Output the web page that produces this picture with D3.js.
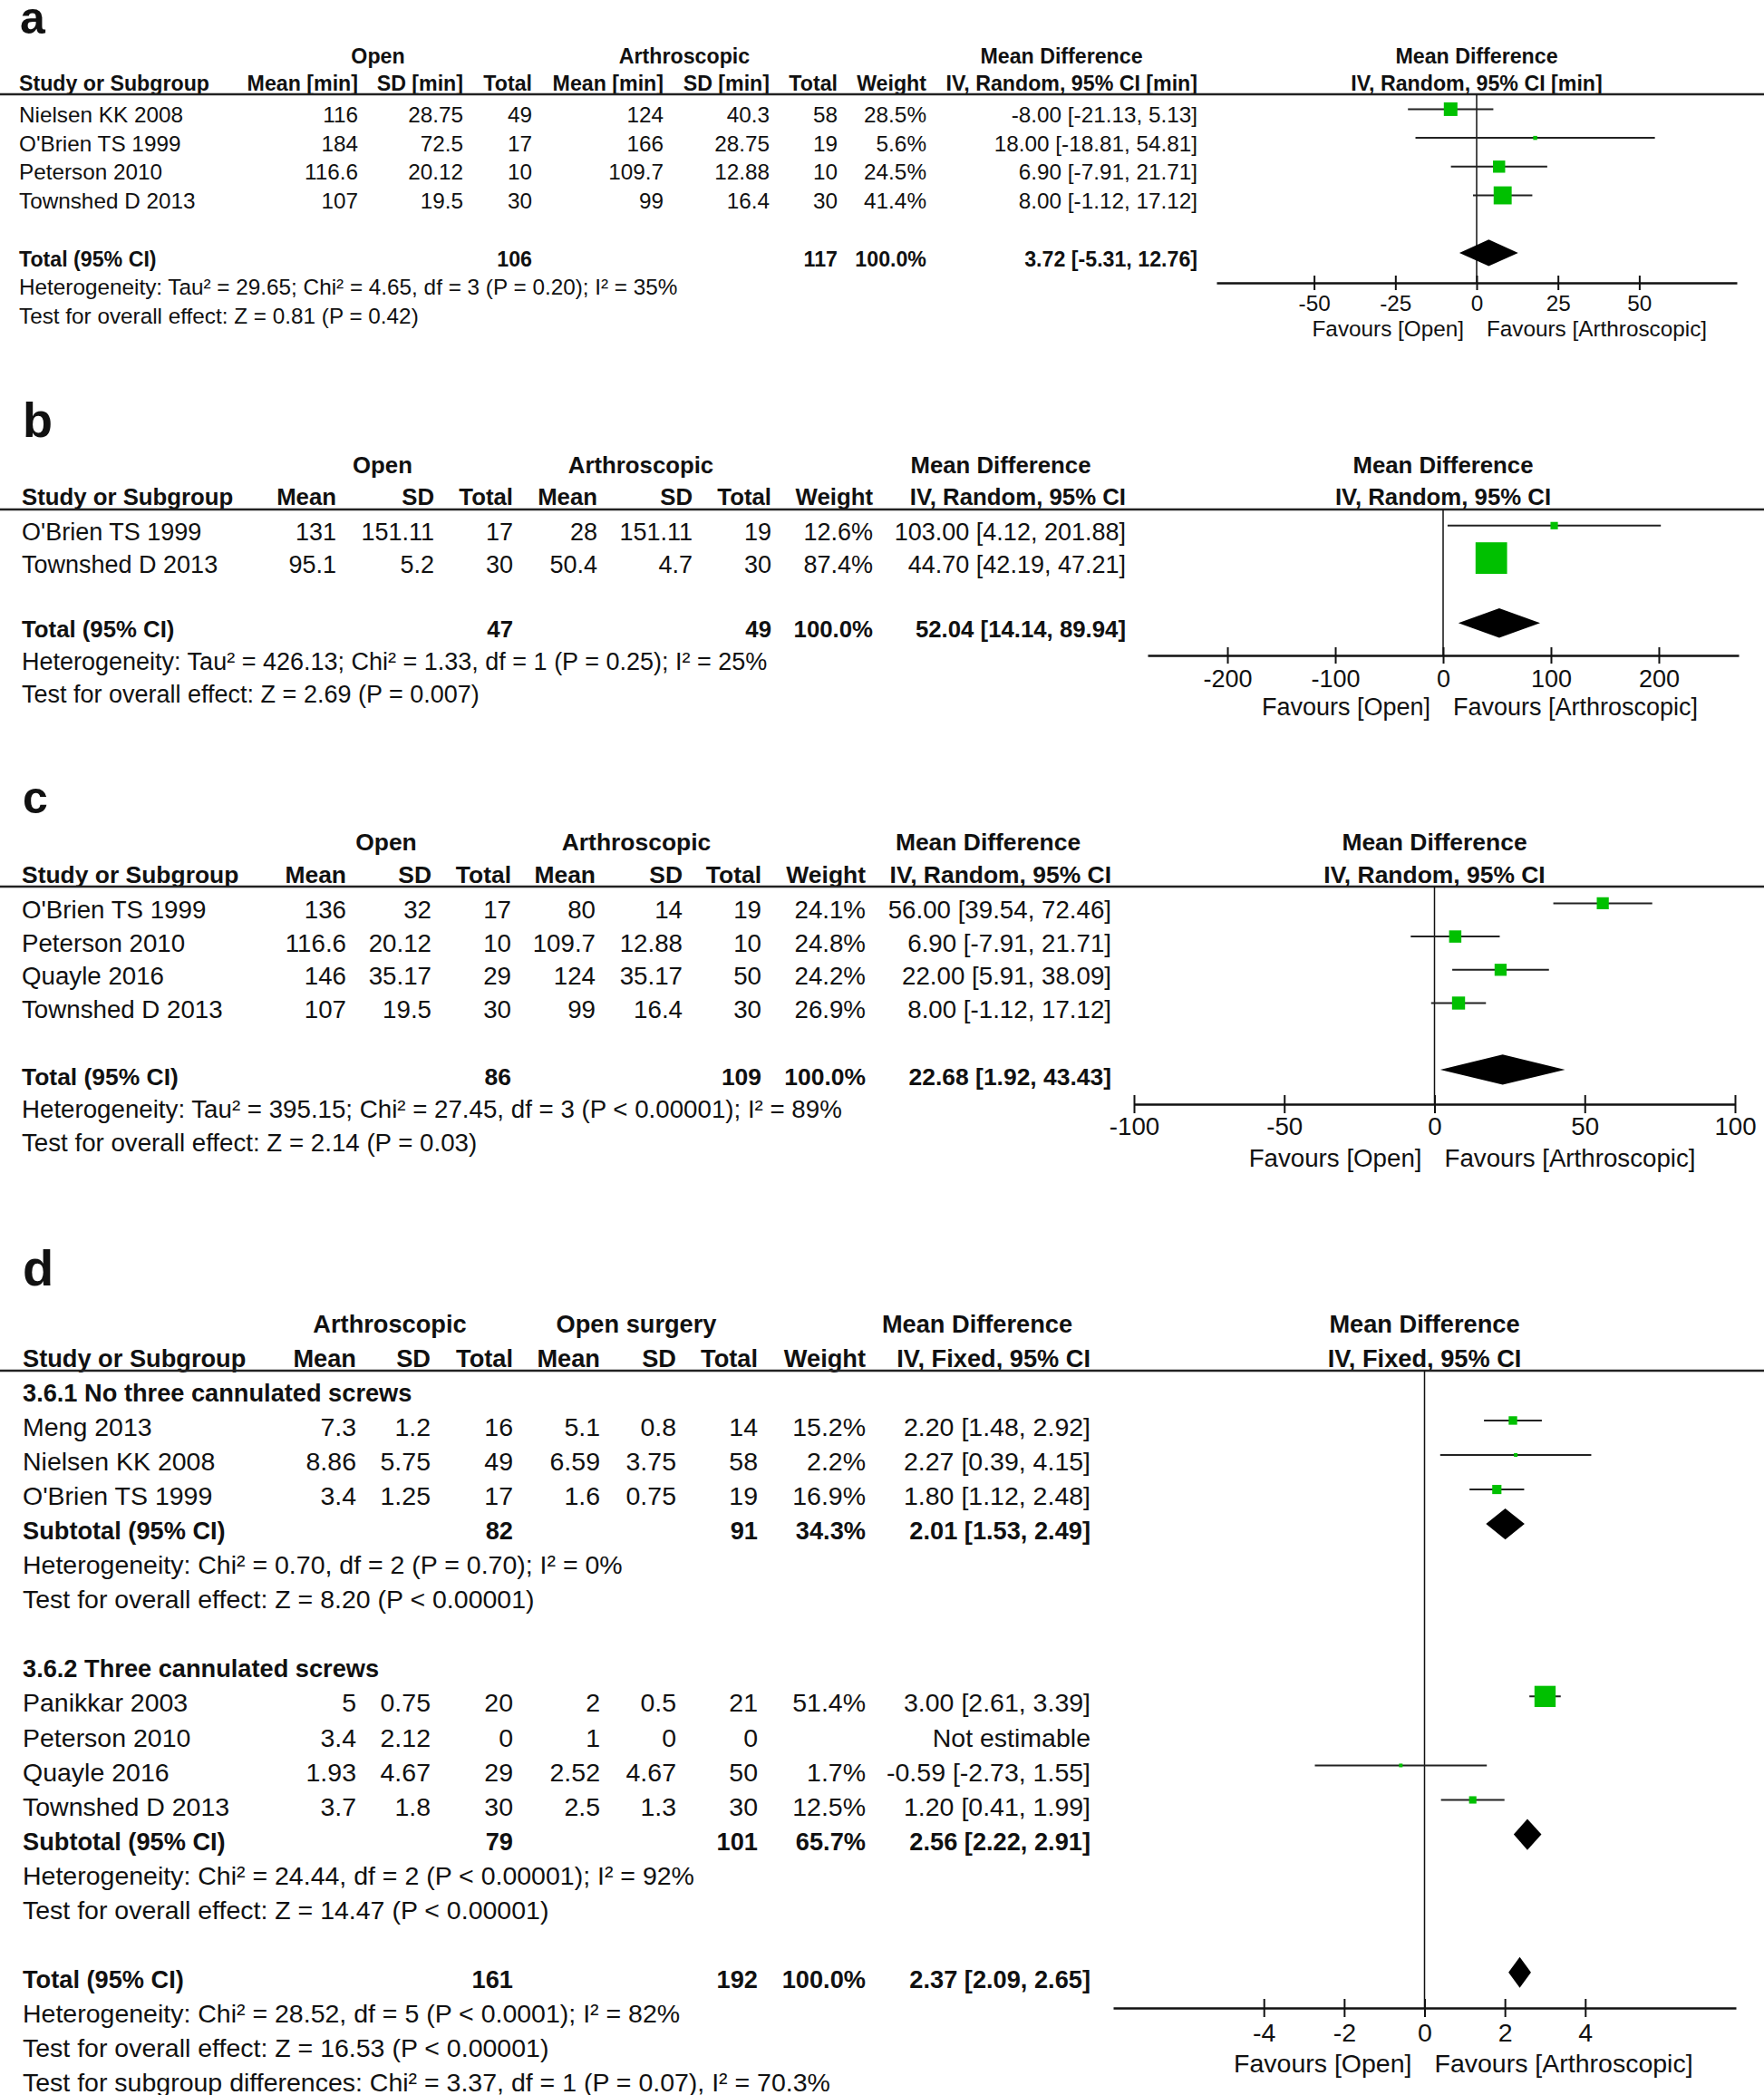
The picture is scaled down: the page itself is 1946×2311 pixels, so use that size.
<!DOCTYPE html>
<html>
<head>
<meta charset="utf-8">
<script src="https://cdn.jsdelivr.net/npm/d3@7"></script>
<style>
  body { margin: 0; background: #fff; }
  text { font-family: "Liberation Sans", Arial, sans-serif; fill: #111; }
</style>
</head>
<body>
<div id="chart"></div>
<script>

// ----- panel a : operation time -----
const aStudies  = ["Nielsen KK 2008", "O'Brien TS 1999", "Peterson 2010", "Townshed D 2013"];
const aOpenMean = [116, 184, 116.6, 107];
const aOpenSD   = [28.75, 72.5, 20.12, 19.5];
const aOpenN    = [49, 17, 10, 30];
const aArthMean = [124, 166, 109.7, 99];
const aArthSD   = [40.3, 28.75, 12.88, 16.4];
const aArthN    = [58, 19, 10, 30];
const aWeight   = [28.5, 5.6, 24.5, 41.4];
const aMD       = [-8.00, 18.00, 6.90, 8.00];
const aLower    = [-21.13, -18.81, -7.91, -1.12];
const aUpper    = [5.13, 54.81, 21.71, 17.12];
const aTotal    = [3.72, -5.31, 12.76];
const aTotalN   = [106, 117];
const aTicks    = [-50, -25, 0, 25, 50];
const aStats    = ["Heterogeneity: Tau² = 29.65; Chi² = 4.65, df = 3 (P = 0.20); I² = 35%",
                   "Test for overall effect: Z = 0.81 (P = 0.42)"];

// ----- panel b -----
const bStudies  = ["O'Brien TS 1999", "Townshed D 2013"];
const bOpenMean = [131, 95.1];
const bOpenSD   = [151.11, 5.2];
const bOpenN    = [17, 30];
const bArthMean = [28, 50.4];
const bArthSD   = [151.11, 4.7];
const bArthN    = [19, 30];
const bWeight   = [12.6, 87.4];
const bMD       = [103.00, 44.70];
const bLower    = [4.12, 42.19];
const bUpper    = [201.88, 47.21];
const bTotal    = [52.04, 14.14, 89.94];
const bTotalN   = [47, 49];
const bTicks    = [-200, -100, 0, 100, 200];
const bStats    = ["Heterogeneity: Tau² = 426.13; Chi² = 1.33, df = 1 (P = 0.25); I² = 25%",
                   "Test for overall effect: Z = 2.69 (P = 0.007)"];

// ----- panel c -----
const cStudies  = ["O'Brien TS 1999", "Peterson 2010", "Quayle 2016", "Townshed D 2013"];
const cOpenMean = [136, 116.6, 146, 107];
const cOpenSD   = [32, 20.12, 35.17, 19.5];
const cOpenN    = [17, 10, 29, 30];
const cArthMean = [80, 109.7, 124, 99];
const cArthSD   = [14, 12.88, 35.17, 16.4];
const cArthN    = [19, 10, 50, 30];
const cWeight   = [24.1, 24.8, 24.2, 26.9];
const cMD       = [56.00, 6.90, 22.00, 8.00];
const cLower    = [39.54, -7.91, 5.91, -1.12];
const cUpper    = [72.46, 21.71, 38.09, 17.12];
const cTotal    = [22.68, 1.92, 43.43];
const cTotalN   = [86, 109];
const cTicks    = [-100, -50, 0, 50, 100];
const cStats    = ["Heterogeneity: Tau² = 395.15; Chi² = 27.45, df = 3 (P < 0.00001); I² = 89%",
                   "Test for overall effect: Z = 2.14 (P = 0.03)"];

// ----- panel d (subgroups) -----
const dGroupNames = ["3.6.1 No three cannulated screws", "3.6.2 Three cannulated screws"];
const dStudies  = ["Meng 2013", "Nielsen KK 2008", "O'Brien TS 1999", "Panikkar 2003", "Peterson 2010", "Quayle 2016", "Townshed D 2013"];
const dGroup    = [0, 0, 0, 1, 1, 1, 1];
const dArthMean = [7.3, 8.86, 3.4, 5, 3.4, 1.93, 3.7];
const dArthSD   = [1.2, 5.75, 1.25, 0.75, 2.12, 4.67, 1.8];
const dArthN    = [16, 49, 17, 20, 0, 29, 30];
const dOpenMean = [5.1, 6.59, 1.6, 2, 1, 2.52, 2.5];
const dOpenSD   = [0.8, 3.75, 0.75, 0.5, 0, 4.67, 1.3];
const dOpenN    = [14, 58, 19, 21, 0, 50, 30];
const dWeight   = [15.2, 2.2, 16.9, 51.4, null, 1.7, 12.5];
const dMD       = [2.20, 2.27, 1.80, 3.00, null, -0.59, 1.20];
const dLower    = [1.48, 0.39, 1.12, 2.61, null, -2.73, 0.41];
const dUpper    = [2.92, 4.15, 2.48, 3.39, null, 1.55, 1.99];
const dSubN1    = [82, 79];
const dSubN2    = [91, 101];
const dSubWeight = [34.3, 65.7];
const dSubMD    = [2.01, 2.56];
const dSubLower = [1.53, 2.22];
const dSubUpper = [2.49, 2.91];
const dSubStats = [
  ["Heterogeneity: Chi² = 0.70, df = 2 (P = 0.70); I² = 0%",
   "Test for overall effect: Z = 8.20 (P < 0.00001)"],
  ["Heterogeneity: Chi² = 24.44, df = 2 (P < 0.00001); I² = 92%",
   "Test for overall effect: Z = 14.47 (P < 0.00001)"]
];
const dTotal    = [2.37, 2.09, 2.65];
const dTotalN   = [161, 192];
const dTicks    = [-4, -2, 0, 2, 4];
const dStats    = ["Heterogeneity: Chi² = 28.52, df = 5 (P < 0.0001); I² = 82%",
                   "Test for overall effect: Z = 16.53 (P < 0.00001)",
                   "Test for subgroup differences: Chi² = 3.37, df = 1 (P = 0.07), I² = 70.3%"];

// ---------------------------------------------------------------

const W = 1946, H = 2311;
const green = "#00c000";
const boldScale = 0.955;   // the bold face in the picture is narrow

const svg = d3.select("#chart").append("svg")
  .attr("width", W).attr("height", H);

// box side grows with weight (same rule for every panel)
const boxSize = d3.scalePow().exponent(0.75).domain([0, 100]).range([0, 38.5]);

function fmtCI(md, lo, hi) {
  return md.toFixed(2) + " [" + lo.toFixed(2) + ", " + hi.toFixed(2) + "]";
}

function studyRows(slot0, names, m1, s1, n1, m2, s2, n2, w, md, lo, hi, idx) {
  return idx.map((i, k) => ({
    kind: "study", slot: slot0 + k,
    cells: [m1[i], s1[i], n1[i], m2[i], s2[i], n2[i]].map(String)
      .concat([w[i] == null ? "" : w[i].toFixed(1) + "%",
               md[i] == null ? "Not estimable" : fmtCI(md[i], lo[i], hi[i])]),
    name: names[i], w: w[i], md: md[i], lo: lo[i], hi: hi[i]
  }));
}

function totalRow(slot, label, nn, w, t) {
  return { kind: "total", slot: slot, name: label, n1: nn[0], n2: nn[1],
           w: w.toFixed(1) + "%", md: t[0], lo: t[1], hi: t[2] };
}

function statRows(slot0, lines) {
  return lines.map((s, k) => ({ kind: "stat", slot: slot0 + k, name: s }));
}

function drawPanel(p) {
  const g = svg.append("g").style("font-size", p.fs + "px");
  const bold = g.append("g").style("font-weight", "bold").style("font-size", (p.fs * boldScale) + "px");
  const y = d3.scaleLinear().domain([0, 1]).range([p.row0, p.row0 + p.rowStep]);
  const x = d3.scaleLinear().domain(p.domain).range(p.range);
  const off = 0.6 * p.fs;
  const x0 = x(0);

  g.append("text")
    .attr("x", p.labelX).attr("y", p.labelY)
    .style("font-size", p.labelFs + "px").style("font-weight", "bold")
    .text(p.label);

  // header, first line
  p.groupHeads.forEach(([t, cx]) => {
    bold.append("text").attr("x", cx).attr("y", p.hdr1Y)
      .attr("text-anchor", "middle").text(t);
  });
  bold.append("text").attr("x", x0).attr("y", p.hdr1Y)
    .attr("text-anchor", "middle").text("Mean Difference");

  // header, second line
  bold.append("text").attr("x", p.studyX).attr("y", p.hdr2Y).text("Study or Subgroup");
  p.hdr2.forEach((t, i) => {
    bold.append("text").attr("x", p.cols[i]).attr("y", p.hdr2Y)
      .attr("text-anchor", "end").text(t);
  });
  bold.append("text").attr("x", x0).attr("y", p.hdr2Y)
    .attr("text-anchor", "middle").text(p.hdr2[7]);

  g.append("line")
    .attr("x1", 0).attr("x2", W).attr("y1", p.lineY).attr("y2", p.lineY)
    .attr("stroke", "#222").attr("stroke-width", 2.5);

  // line of no effect
  g.append("line")
    .attr("x1", x0).attr("x2", x0).attr("y1", p.lineY).attr("y2", p.axisY)
    .attr("stroke", "#111").attr("stroke-width", 1.5);

  p.rows.forEach(r => {
    const by = y(r.slot);
    if (r.kind === "heading") {
      bold.append("text").attr("x", p.studyX).attr("y", by).text(r.name);
    } else if (r.kind === "stat") {
      g.append("text").attr("x", p.studyX).attr("y", by).text(r.name);
    } else if (r.kind === "study") {
      g.append("text").attr("x", p.studyX).attr("y", by).text(r.name);
      r.cells.forEach((c, i) => {
        g.append("text").attr("x", p.cols[i]).attr("y", by)
          .attr("text-anchor", "end").text(c);
      });
      if (r.md != null) {
        const cy = by - off;
        const s = Math.max(4, boxSize(r.w));
        g.append("line")
          .attr("x1", x(r.lo)).attr("x2", x(r.hi)).attr("y1", cy).attr("y2", cy)
          .attr("stroke", "#222").attr("stroke-width", 2);
        g.append("rect")
          .attr("x", x(r.md) - s / 2).attr("y", cy - s / 2)
          .attr("width", s).attr("height", s)
          .attr("fill", green);
      }
    } else if (r.kind === "total") {
      bold.append("text").attr("x", p.studyX).attr("y", by).text(r.name);
      [[2, r.n1], [5, r.n2], [6, r.w], [7, fmtCI(r.md, r.lo, r.hi)]].forEach(([i, v]) => {
        bold.append("text").attr("x", p.cols[i]).attr("y", by)
          .attr("text-anchor", "end").text(v);
      });
      const cy = by - off;
      g.append("path")
        .attr("d", d3.line()([[x(r.lo), cy], [x(r.md), cy - off], [x(r.hi), cy], [x(r.md), cy + off]]) + "Z")
        .attr("fill", "#000");
    }
  });

  // x axis
  const ax = g.append("g")
    .attr("transform", `translate(0,${p.axisY})`)
    .call(d3.axisBottom(x).tickValues(p.ticks).tickFormat(d => String(d)).tickSizeOuter(0));
  ax.attr("font-size", null).attr("font-family", null);
  ax.select(".domain").attr("stroke", "#111").attr("stroke-width", 2.7);
  ax.selectAll(".tick line")
    .attr("y1", -p.tick).attr("y2", p.tick)
    .attr("stroke", "#111").attr("stroke-width", 2);
  ax.selectAll(".tick text")
    .attr("y", p.tickLabelY - p.axisY).attr("dy", null);

  g.append("text").attr("x", x0 - 14).attr("y", p.favY)
    .attr("text-anchor", "end").text("Favours [Open]");
  g.append("text").attr("x", x0 + 11).attr("y", p.favY)
    .text("Favours [Arthroscopic]");
}

const idx = arr => arr.map((_, i) => i);

// panel a
drawPanel({
  label: "a", labelX: 22, labelY: 37, labelFs: 50, fs: 24.3, studyX: 21,
  cols: [395, 511, 587, 732, 849, 924, 1022, 1321],
  hdr1Y: 70, hdr2Y: 100, lineY: 104,
  groupHeads: [["Open", 417], ["Arthroscopic", 755], ["Mean Difference", 1171]],
  hdr2: ["Mean [min]", "SD [min]", "Total", "Mean [min]", "SD [min]", "Total", "Weight", "IV, Random, 95% CI [min]"],
  row0: 135, rowStep: 31.7,
  domain: [-80, 80], range: [1342, 1916],
  axisY: 312, ticks: aTicks, tick: 8, tickLabelY: 343, favY: 371,
  rows: studyRows(0, aStudies, aOpenMean, aOpenSD, aOpenN, aArthMean, aArthSD, aArthN,
                  aWeight, aMD, aLower, aUpper, idx(aStudies))
    .concat([totalRow(5, "Total (95% CI)", aTotalN, 100, aTotal)])
    .concat(statRows(6, aStats))
});

// panel b
drawPanel({
  label: "b", labelX: 25, labelY: 482, labelFs: 54, fs: 27, studyX: 24,
  cols: [371, 479, 566, 659, 764, 851, 963, 1242],
  hdr1Y: 522, hdr2Y: 557, lineY: 562,
  groupHeads: [["Open", 422], ["Arthroscopic", 707], ["Mean Difference", 1104]],
  hdr2: ["Mean", "SD", "Total", "Mean", "SD", "Total", "Weight", "IV, Random, 95% CI"],
  row0: 596, rowStep: 35.8,
  domain: [-274, 274], range: [1266, 1918],
  axisY: 723, ticks: bTicks, tick: 9, tickLabelY: 758, favY: 789,
  rows: studyRows(0, bStudies, bOpenMean, bOpenSD, bOpenN, bArthMean, bArthSD, bArthN,
                  bWeight, bMD, bLower, bUpper, idx(bStudies))
    .concat([totalRow(3, "Total (95% CI)", bTotalN, 100, bTotal)])
    .concat(statRows(4, bStats))
});

// panel c
drawPanel({
  label: "c", labelX: 25, labelY: 897, labelFs: 50, fs: 27.7, studyX: 24,
  cols: [382, 476, 564, 657, 753, 840, 955, 1226],
  hdr1Y: 938, hdr2Y: 974, lineY: 978,
  groupHeads: [["Open", 426], ["Arthroscopic", 702], ["Mean Difference", 1090]],
  hdr2: ["Mean", "SD", "Total", "Mean", "SD", "Total", "Weight", "IV, Random, 95% CI"],
  row0: 1013, rowStep: 36.7,
  domain: [-100, 100], range: [1251, 1914],
  axisY: 1218, ticks: cTicks, tick: 10, tickLabelY: 1252, favY: 1287,
  rows: studyRows(0, cStudies, cOpenMean, cOpenSD, cOpenN, cArthMean, cArthSD, cArthN,
                  cWeight, cMD, cLower, cUpper, idx(cStudies))
    .concat([totalRow(5, "Total (95% CI)", cTotalN, 100, cTotal)])
    .concat(statRows(6, cStats))
});

// panel d: two subgroups, then overall
const dRows = [];
[0, 1].forEach(gi => {
  const base = gi * 8;
  const members = idx(dStudies).filter(i => dGroup[i] === gi);
  dRows.push({ kind: "heading", slot: base, name: dGroupNames[gi] });
  dRows.push(...studyRows(base + 1, dStudies, dArthMean, dArthSD, dArthN, dOpenMean, dOpenSD, dOpenN,
                          dWeight, dMD, dLower, dUpper, members));
  const s = base + 1 + members.length;
  dRows.push(totalRow(s, "Subtotal (95% CI)", [dSubN1[gi], dSubN2[gi]], dSubWeight[gi],
                      [dSubMD[gi], dSubLower[gi], dSubUpper[gi]]));
  dRows.push(...statRows(s + 1, dSubStats[gi]));
});
dRows.push(totalRow(17, "Total (95% CI)", dTotalN, 100, dTotal));
dRows.push(...statRows(18, dStats));

drawPanel({
  label: "d", labelX: 25, labelY: 1418, labelFs: 56, fs: 28.5, studyX: 25,
  cols: [393, 475, 566, 662, 746, 836, 955, 1203],
  hdr1Y: 1470, hdr2Y: 1508, lineY: 1512,
  groupHeads: [["Arthroscopic", 430], ["Open surgery", 702], ["Mean Difference", 1078]],
  hdr2: ["Mean", "SD", "Total", "Mean", "SD", "Total", "Weight", "IV, Fixed, 95% CI"],
  row0: 1546, rowStep: 38.05,
  domain: [-7.75, 7.75], range: [1228, 1915],
  axisY: 2215, ticks: dTicks, tick: 10, tickLabelY: 2252, favY: 2286,
  rows: dRows
});

</script>
</body>
</html>
